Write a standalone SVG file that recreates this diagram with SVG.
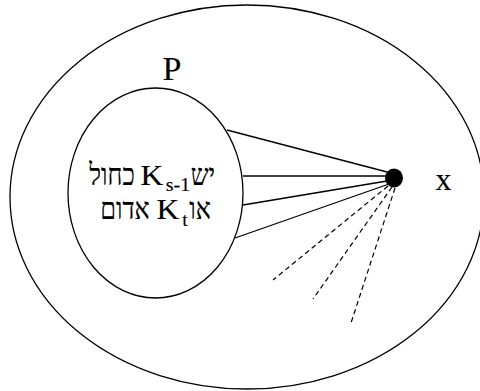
<svg xmlns="http://www.w3.org/2000/svg" width="480" height="391" viewBox="0 0 480 391">
<style>
.shape{fill:none;stroke:#000;stroke-width:1.3}
.ln{stroke:#000;stroke-width:1.3;fill:none}
.dash{stroke:#000;stroke-width:1.2;stroke-dasharray:5 3.5;fill:none}
text{font-family:"Liberation Serif","DejaVu Serif",serif;fill:#000;stroke:#000;stroke-width:0.15;text-anchor:middle}
.heb{font-size:30px}
.lat{font-size:30px}
.sub{font-size:19px}
</style>
<rect width="480" height="391" fill="#fff"/>
<g id="outer"><ellipse class="shape" cx="247" cy="197" rx="237" ry="192"/></g>
<g id="P">
<ellipse class="shape" cx="155.5" cy="193" rx="87.5" ry="105"/>
<text x="172" y="80" font-size="34">P</text>
<text class="heb" transform="translate(112,185) scale(0.84,1)">כחול</text>
<text class="lat" transform="translate(152,185) scale(1.05,1)">K</text>
<text class="sub" transform="translate(178,191) scale(1.05,1)">s-1</text>
<text class="heb" transform="translate(203,185) scale(0.84,1)">יש</text>
<text class="heb" transform="translate(125,219) scale(0.84,1)">אדום</text>
<text class="lat" transform="translate(168,219) scale(1.05,1)">K</text>
<text class="sub" transform="translate(185,226) scale(1.05,1)">t</text>
<text class="heb" transform="translate(200,219) scale(0.84,1)">או</text>
</g>
<g id="connectors">
<line class="ln" x1="387" y1="172" x2="227" y2="130"/>
<line class="ln" x1="387" y1="176" x2="243" y2="176"/>
<line class="ln" x1="387" y1="181" x2="243" y2="205"/>
<line class="ln" x1="389" y1="184" x2="235" y2="238"/>
<line class="dash" x1="388" y1="186" x2="273" y2="280"/>
<line class="dash" x1="392" y1="187" x2="313" y2="299"/>
<line class="dash" x1="395" y1="188" x2="351" y2="323"/>
</g>
<g id="x">
<ellipse cx="394" cy="178" rx="9" ry="9.5" fill="#000"/>
<text x="443.5" y="190" font-size="32">x</text>
</g>
</svg>
